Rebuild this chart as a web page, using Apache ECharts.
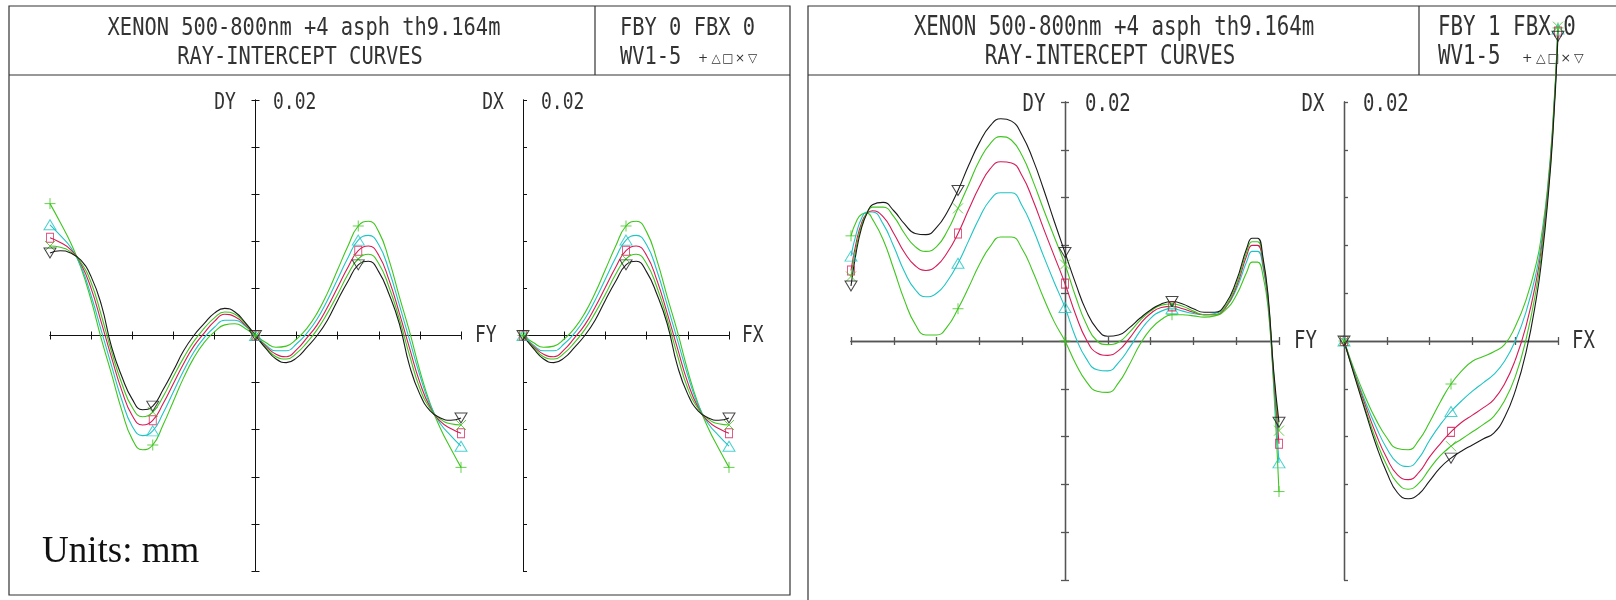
<!DOCTYPE html>
<html>
<head>
<meta charset="utf-8">
<script src="https://cdn.jsdelivr.net/npm/echarts@6/dist/echarts.min.js"></script>
<style>
html, body { margin: 0; padding: 0; background: #fff; }
#main { width: 1616px; height: 600px; }
</style>
</head>
<body>
<div id="main"></div>
<script>
// ---- data (FY/FX relative field, DY/DX in mm) ----
var leftFY = [-1,-0.95,-0.9,-0.85,-0.8,-0.75,-0.7,-0.65,-0.6,-0.55,-0.5,-0.45,-0.4,-0.35,-0.3,-0.25,-0.2,-0.15,-0.1,-0.05,0,0.05,0.1,0.15,0.2,0.25,0.3,0.35,0.4,0.45,0.5,0.55,0.6,0.65,0.7,0.75,0.8,0.85,0.9,0.95,1];
var leftDY1 = [0.0112,0.0096,0.0079,0.0058,0.0030,-0.0003,-0.0033,-0.0064,-0.0088,-0.0097,-0.0093,-0.0076,-0.0056,-0.0036,-0.0019,-0.0006,0.0003,0.0009,0.0010,0.0006,0,-0.0006,-0.0010,-0.0009,-0.0003,0.0006,0.0019,0.0036,0.0056,0.0076,0.0093,0.0097,0.0088,0.0064,0.0033,0.0003,-0.0030,-0.0058,-0.0079,-0.0096,-0.0112];
var leftDY2 = [0.0094,0.0085,0.0075,0.0059,0.0034,0.0004,-0.0026,-0.0055,-0.0077,-0.0085,-0.0081,-0.0066,-0.0048,-0.0030,-0.0014,-0.0002,0.0007,0.0013,0.0013,0.0008,0,-0.0008,-0.0013,-0.0013,-0.0007,0.0002,0.0014,0.0030,0.0048,0.0066,0.0081,0.0085,0.0077,0.0055,0.0026,-0.0004,-0.0034,-0.0059,-0.0075,-0.0085,-0.0094];
var leftDY3 = [0.0083,0.0079,0.0073,0.0061,0.0040,0.0011,-0.0019,-0.0047,-0.0068,-0.0076,-0.0072,-0.0058,-0.0041,-0.0024,-0.0009,0.0002,0.0012,0.0018,0.0016,0.0009,0,-0.0009,-0.0016,-0.0018,-0.0012,-0.0002,0.0009,0.0024,0.0041,0.0058,0.0072,0.0076,0.0068,0.0047,0.0019,-0.0011,-0.0040,-0.0061,-0.0073,-0.0079,-0.0083];
var leftDY4 = [0.0076,0.0075,0.0071,0.0062,0.0045,0.0017,-0.0014,-0.0041,-0.0061,-0.0069,-0.0065,-0.0052,-0.0035,-0.0019,-0.0005,0.0006,0.0015,0.0020,0.0018,0.0010,0,-0.0010,-0.0018,-0.0020,-0.0015,-0.0006,0.0005,0.0019,0.0035,0.0052,0.0065,0.0069,0.0061,0.0041,0.0014,-0.0017,-0.0045,-0.0062,-0.0071,-0.0075,-0.0076];
var leftDY5 = [0.0070,0.0072,0.0070,0.0064,0.0050,0.0026,-0.0010,-0.0035,-0.0054,-0.0063,-0.0060,-0.0046,-0.0030,-0.0013,0.0000,0.0010,0.0019,0.0023,0.0020,0.0011,0,-0.0011,-0.0020,-0.0023,-0.0019,-0.0010,0.0000,0.0013,0.0030,0.0046,0.0060,0.0063,0.0054,0.0035,0.0010,-0.0026,-0.0050,-0.0064,-0.0070,-0.0072,-0.0070];

var leftFX = [0,0.05,0.1,0.15,0.2,0.25,0.3,0.35,0.4,0.45,0.5,0.55,0.6,0.65,0.7,0.75,0.8,0.85,0.9,0.95,1];
var leftDX1 = [0,-0.0006,-0.0010,-0.0009,-0.0003,0.0006,0.0019,0.0036,0.0056,0.0076,0.0093,0.0097,0.0088,0.0064,0.0033,0.0003,-0.0030,-0.0058,-0.0079,-0.0096,-0.0112];
var leftDX2 = [0,-0.0008,-0.0013,-0.0013,-0.0007,0.0002,0.0014,0.0030,0.0048,0.0066,0.0081,0.0085,0.0077,0.0055,0.0026,-0.0004,-0.0034,-0.0059,-0.0075,-0.0085,-0.0094];
var leftDX3 = [0,-0.0009,-0.0016,-0.0018,-0.0012,-0.0002,0.0009,0.0024,0.0041,0.0058,0.0072,0.0076,0.0068,0.0047,0.0019,-0.0011,-0.0040,-0.0061,-0.0073,-0.0079,-0.0083];
var leftDX4 = [0,-0.0010,-0.0018,-0.0020,-0.0015,-0.0006,0.0005,0.0019,0.0035,0.0052,0.0065,0.0069,0.0061,0.0041,0.0014,-0.0017,-0.0045,-0.0062,-0.0071,-0.0075,-0.0076];
var leftDX5 = [0,-0.0011,-0.0020,-0.0023,-0.0019,-0.0010,0.0000,0.0013,0.0030,0.0046,0.0060,0.0063,0.0054,0.0035,0.0010,-0.0026,-0.0050,-0.0064,-0.0070,-0.0072,-0.0070];

var rightFY = [-1,-0.975,-0.95,-0.925,-0.9,-0.85,-0.8,-0.75,-0.7,-0.65,-0.6,-0.55,-0.5,-0.45,-0.4,-0.35,-0.3,-0.25,-0.2,-0.15,-0.1,-0.05,0,0.05,0.1,0.15,0.2,0.25,0.3,0.35,0.4,0.45,0.5,0.55,0.6,0.65,0.7,0.75,0.8,0.85,0.875,0.9,0.925,0.95,0.975,1];
var rightDY1 = [0.0088,0.0100,0.0106,0.0107,0.0102,0.0085,0.0060,0.0034,0.0014,0.0005,0.0005,0.0012,0.0027,0.0045,0.0064,0.0079,0.0087,0.0087,0.0077,0.0058,0.0036,0.0016,0.0000,-0.0019,-0.0034,-0.0042,-0.0043,-0.0035,-0.0020,-0.0003,0.0010,0.0018,0.0022,0.0022,0.0021,0.0020,0.0021,0.0026,0.0038,0.0058,0.0066,0.0066,0.0055,0.0026,-0.0038,-0.0126];
var rightDY2 = [0.0071,0.0090,0.0103,0.0108,0.0108,0.0098,0.0079,0.0058,0.0043,0.0037,0.0040,0.0050,0.0065,0.0084,0.0103,0.0118,0.0124,0.0124,0.0113,0.0094,0.0071,0.0049,0.0028,0.0003,-0.0015,-0.0024,-0.0025,-0.0018,-0.0006,0.0008,0.0019,0.0025,0.0027,0.0025,0.0023,0.0022,0.0023,0.0028,0.0043,0.0067,0.0075,0.0075,0.0062,0.0030,-0.0033,-0.0102];
var rightDY3 = [0.0059,0.0083,0.0099,0.0107,0.0109,0.0104,0.0090,0.0074,0.0063,0.0059,0.0063,0.0074,0.0090,0.0110,0.0129,0.0144,0.0150,0.0149,0.0138,0.0118,0.0094,0.0071,0.0048,0.0022,0.0001,-0.0010,-0.0012,-0.0008,0.0002,0.0014,0.0023,0.0028,0.0029,0.0027,0.0024,0.0022,0.0022,0.0028,0.0045,0.0072,0.0080,0.0080,0.0065,0.0032,-0.0030,-0.0086];
var rightDY4 = [0.0054,0.0079,0.0097,0.0107,0.0112,0.0112,0.0104,0.0090,0.0079,0.0075,0.0079,0.0092,0.0111,0.0131,0.0151,0.0165,0.0171,0.0168,0.0155,0.0134,0.0110,0.0087,0.0064,0.0037,0.0014,0.0000,-0.0003,-0.0001,0.0007,0.0017,0.0025,0.0030,0.0031,0.0029,0.0025,0.0022,0.0022,0.0029,0.0047,0.0075,0.0083,0.0083,0.0068,0.0034,-0.0027,-0.0075];
var rightDY5 = [0.0046,0.0075,0.0095,0.0107,0.0114,0.0116,0.0109,0.0098,0.0090,0.0089,0.0095,0.0108,0.0126,0.0147,0.0166,0.0180,0.0186,0.0184,0.0172,0.0152,0.0127,0.0100,0.0074,0.0048,0.0025,0.0010,0.0004,0.0005,0.0011,0.0019,0.0026,0.0031,0.0033,0.0031,0.0027,0.0024,0.0024,0.0031,0.0050,0.0078,0.0086,0.0086,0.0070,0.0036,-0.0025,-0.0068];

var rightFX = [0,0.05,0.1,0.15,0.2,0.25,0.3,0.35,0.4,0.45,0.5,0.55,0.6,0.65,0.7,0.75,0.8,0.85,0.9,0.925,0.95,0.975,1];
var rightDX1 = [0,-0.0025,-0.0047,-0.0066,-0.0081,-0.0090,-0.0091,-0.0083,-0.0068,-0.0051,-0.0036,-0.0025,-0.0017,-0.0013,-0.0009,-0.0003,0.0012,0.0034,0.0066,0.0091,0.0126,0.0180,0.0262];
var rightDX2 = [0,-0.0027,-0.0051,-0.0072,-0.0090,-0.0102,-0.0105,-0.0098,-0.0083,-0.0070,-0.0059,-0.0050,-0.0042,-0.0035,-0.0028,-0.0017,0.0000,0.0024,0.0059,0.0086,0.0123,0.0177,0.0261];
var rightDX3 = [0,-0.0028,-0.0054,-0.0078,-0.0098,-0.0112,-0.0116,-0.0110,-0.0097,-0.0086,-0.0076,-0.0068,-0.0062,-0.0056,-0.0049,-0.0036,-0.0016,0.0012,0.0052,0.0081,0.0120,0.0175,0.0259];
var rightDX4 = [0,-0.0029,-0.0057,-0.0083,-0.0104,-0.0119,-0.0124,-0.0119,-0.0107,-0.0096,-0.0088,-0.0082,-0.0076,-0.0070,-0.0063,-0.0050,-0.0030,0.0001,0.0045,0.0076,0.0117,0.0173,0.0263];
var rightDX5 = [0,-0.0030,-0.0059,-0.0087,-0.0110,-0.0127,-0.0132,-0.0128,-0.0117,-0.0106,-0.0098,-0.0092,-0.0087,-0.0082,-0.0077,-0.0064,-0.0042,-0.0010,0.0037,0.0070,0.0113,0.0170,0.0255];

// rays where the symbols are drawn
var markerFY = [-1, -0.5, 0, 0.5, 1];
var markerFX = [0, 0.5, 1];

// ---- styles ----
var colors = ['#3ec61e', '#1fc4c4', '#d61a55', '#3ec61e', '#1a1a1a'];
var symbols = [
  { s: 'path://M0,5.5L11,5.5M5.5,0L5.5,11', size: [11, 11] },   // +
  { s: 'path://M6,0L12,10L0,10Z', size: [12, 10] },             // triangle
  { s: 'path://M0,0L7,0L7,9L0,9Z', size: [7, 9] },              // square
  { s: 'path://M0,0L10,10M10,0L0,10', size: [10, 10] },         // x
  { s: 'path://M0,0L12,0L6,10Z', size: [12, 10] }               // inverted triangle
];
var MONO = 'DejaVu Sans Mono';
var INK = '#333';

var plots = [
  { grid: { left: 50, top: 100, width: 411, height: 471 }, xs: leftFY, ys: [leftDY1, leftDY2, leftDY3, leftDY4, leftDY5], min: -1, marks: markerFY, both: true, axis: '#111', aw: 1 },
  { grid: { left: 523, top: 100, width: 206, height: 471 }, xs: leftFX, ys: [leftDX1, leftDX2, leftDX3, leftDX4, leftDX5], min: 0, marks: markerFX, both: false, axis: '#111', aw: 1 },
  { grid: { left: 851, top: 102, width: 428, height: 478 }, xs: rightFY, ys: [rightDY1, rightDY2, rightDY3, rightDY4, rightDY5], min: -1, marks: markerFY, both: true, axis: '#555', aw: 1.3 },
  { grid: { left: 1344, top: 102, width: 214, height: 478 }, xs: rightFX, ys: [rightDX1, rightDX2, rightDX3, rightDX4, rightDX5], min: 0, marks: markerFX, both: false, axis: '#555', aw: 1.3 }
];

var grids = [], xAxes = [], yAxes = [], series = [];

plots.forEach(function (p, i) {
  var g = { outerBoundsMode: 'none' };
  for (var k in p.grid) g[k] = p.grid[k];
  grids.push(g);
  var ls = { color: p.axis, width: p.aw };

  // two x axes on the same line: one ticks down, one ticks up
  ['bottom', 'top'].forEach(function (pos) {
    xAxes.push({
      type: 'value', gridIndex: i, min: p.min, max: 1, interval: 0.2, position: pos,
      axisLine: { show: true, onZero: true, onZeroAxisIndex: 2 * i, lineStyle: ls },
      axisTick: { show: true, length: 4, lineStyle: ls },
      axisLabel: { show: false }, splitLine: { show: false }
    });
  });
  ['left', 'right'].forEach(function (pos, k) {
    yAxes.push({
      type: 'value', gridIndex: i, min: -0.02, max: 0.02, interval: 0.004, position: pos,
      axisLine: { show: true, onZero: true, onZeroAxisIndex: 2 * i, lineStyle: ls },
      axisTick: { show: p.both || k === 0, inside: !p.both, length: 4, lineStyle: ls },
      axisLabel: { show: false }, splitLine: { show: false }
    });
  });

  p.ys.forEach(function (arr, w) {
    series.push({
      type: 'line', xAxisIndex: 2 * i, yAxisIndex: 2 * i,
      data: p.xs.map(function (x, n) { return [x, arr[n]]; }),
      smooth: true, showSymbol: false, clip: false, silent: true, z: 2,
      lineStyle: { color: colors[w], width: 1.1 }
    });
    series.push({
      type: 'scatter', xAxisIndex: 2 * i, yAxisIndex: 2 * i,
      data: p.marks.map(function (m) { return [m, arr[p.xs.indexOf(m)]]; }),
      symbol: symbols[w].s, symbolSize: symbols[w].size, clip: false, silent: true, z: 3,
      itemStyle: { color: 'none', borderColor: colors[w], borderWidth: 1 }
    });
  });
});

function txt(s, x, y, size, sy, align, font) {
  return {
    type: 'text', x: x, y: y, scaleY: sy || 1, silent: true,
    style: { text: s, fontFamily: font || MONO, fontSize: size, fill: INK,
             align: align || 'left', verticalAlign: 'middle' }
  };
}
function ln(x1, y1, x2, y2) {
  return { type: 'line', silent: true, shape: { x1: x1, y1: y1, x2: x2, y2: y2 },
           style: { stroke: '#333', lineWidth: 1.2 } };
}

var graphics = [
  // left panel frame
  { type: 'rect', silent: true, shape: { x: 9, y: 6, width: 781, height: 589 }, style: { fill: 'none', stroke: '#333', lineWidth: 1.2 } },
  ln(9, 75, 790, 75), ln(595, 6, 595, 75),
  // right panel frame (runs off the page)
  { type: 'rect', silent: true, shape: { x: 808, y: 6, width: 900, height: 700 }, style: { fill: 'none', stroke: '#333', lineWidth: 1.2 } },
  ln(808, 75, 1616, 75), ln(1419, 6, 1419, 75),

  // headers
  txt('XENON 500-800nm +4 asph th9.164m', 304, 28, 20.4, 1.24, 'center'),
  txt('RAY-INTERCEPT CURVES', 300, 57.5, 20.4, 1.24, 'center'),
  txt('FBY 0 FBX 0', 620, 28, 20.4, 1.24),
  txt('WV1-5', 620, 57.5, 20.4, 1.24),
  txt('XENON 500-800nm +4 asph th9.164m', 1114, 28, 20.8, 1.24, 'center'),
  txt('RAY-INTERCEPT CURVES', 1110, 57.5, 20.8, 1.24, 'center'),
  txt('FBY 1 FBX 0', 1438, 28, 20.8, 1.24),
  txt('WV1-5', 1438, 57.5, 20.8, 1.24),

  // axis names
  txt('DY', 225, 103, 18, 1.3, 'center'), txt('0.02', 273, 103, 18, 1.3),
  txt('DX', 493, 103, 18, 1.3, 'center'), txt('0.02', 541, 103, 18, 1.3),
  txt('FY', 475, 336, 18, 1.3), txt('FX', 742, 336, 18, 1.3),
  txt('DY', 1034, 104.5, 19, 1.32, 'center'), txt('0.02', 1085, 104.5, 19, 1.32),
  txt('DX', 1313, 104.5, 19, 1.32, 'center'), txt('0.02', 1363, 104.5, 19, 1.32),
  txt('FY', 1294, 341, 19, 1.32), txt('FX', 1572, 341, 19, 1.32),

  { type: 'text', x: 42, y: 552, silent: true,
    style: { text: 'Units: mm', fontFamily: 'Liberation Serif', fontSize: 37, fill: '#111', align: 'left', verticalAlign: 'middle' } }
];

// little wavelength key next to WV1-5
var keyGlyphs = ['+', '\u25B3', '\u25A1', '\u00D7', '\u25BD'];
var keyLeft = [703, 716, 728, 740, 752.5];
keyGlyphs.forEach(function (g, k) {
  graphics.push(txt(g, keyLeft[k], 59, 12, 1, 'center', 'DejaVu Sans'));
  graphics.push(txt(g, 1441 + (keyLeft[k] - 620) * 1.04, 59, 12.5, 1, 'center', 'DejaVu Sans'));
});

var chart = echarts.init(document.getElementById('main'));
chart.setOption({
  animation: false,
  backgroundColor: '#fff',
  grid: grids,
  xAxis: xAxes,
  yAxis: yAxes,
  series: series,
  graphic: { elements: graphics }
});
</script>
</body>
</html>
